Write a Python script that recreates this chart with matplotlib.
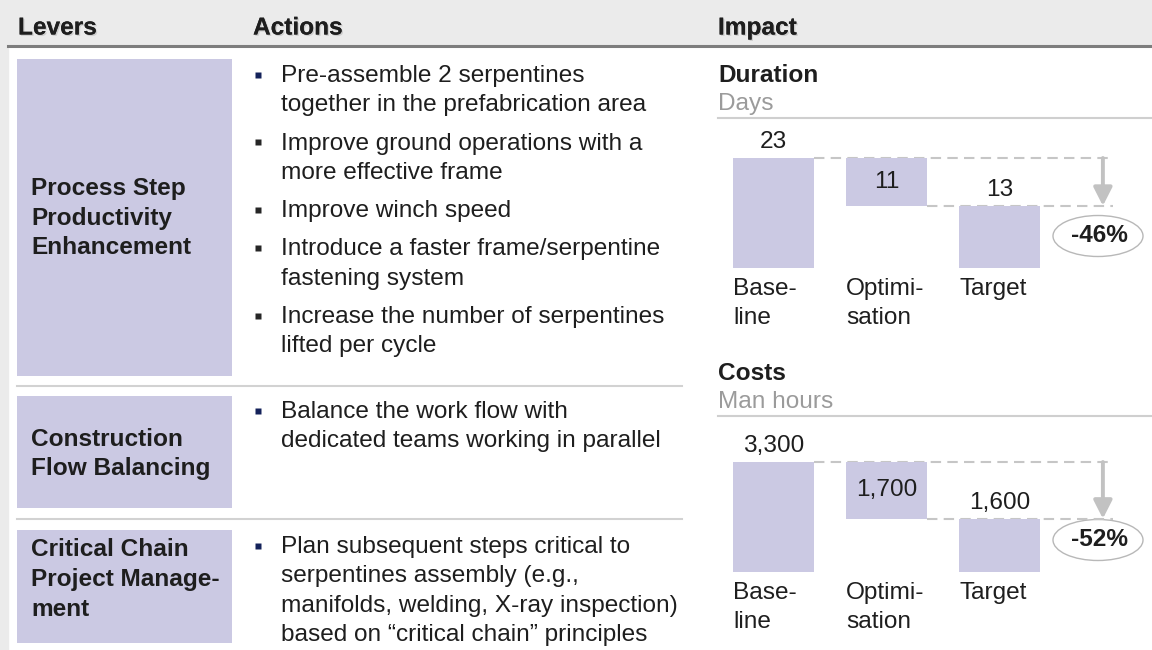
import matplotlib.pyplot as plt
import matplotlib.patheffects as pe
from matplotlib.patches import Rectangle, Ellipse, FancyArrowPatch

plt.rcParams['font.family'] = ['Liberation Sans', 'DejaVu Sans']

# ---- data ----
headers = ['Levers', 'Actions', 'Impact']
levers = [['Process Step', 'Productivity', 'Enhancement'],
          ['Construction', 'Flow Balancing'],
          ['Critical Chain', 'Project Manage-', 'ment']]
actions = [
    [['Pre-assemble 2 serpentines', 'together in the prefabrication area'],
     ['Improve ground operations with a', 'more effective frame'],
     ['Improve winch speed'],
     ['Introduce a faster frame/serpentine', 'fastening system'],
     ['Increase the number of serpentines', 'lifted per cycle']],
    [['Balance the work flow with', 'dedicated teams working in parallel']],
    [['Plan subsequent steps critical to', 'serpentines assembly (e.g.,',
      'manifolds, welding, X-ray inspection)', 'based on \u201ccritical chain\u201d principles']],
]
steps = ['Base-\nline', 'Optimi-\nsation', 'Target']
dur_title, dur_unit = 'Duration', 'Days'
dur_base, dur_reduction, dur_target = 23, 11, 13
dur_change = '-46%'
cost_title, cost_unit = 'Costs', 'Man hours'
cost_base, cost_reduction, cost_target = 3300, 1700, 1600
cost_change = '-52%'

BAR = '#cbc9e3'
TXT = '#1e1e1e'
GRAY_BG = '#ebebeb'
FS = 17.6

W, H = 1152, 650
fig = plt.figure(figsize=(W / 100, H / 100), dpi=100)
fig.patch.set_facecolor('white')

ov = fig.add_axes([0, 0, 1, 1])
ov.set_xlim(0, W)
ov.set_ylim(H, 0)
ov.axis('off')

# background frame
ov.add_patch(Rectangle((0, 0), W, 45, color=GRAY_BG, zorder=0))
ov.add_patch(Rectangle((0, 0), 7.5, H, color=GRAY_BG, zorder=0))
ov.plot([7.5, W], [46, 46], color='#7d7d7d', lw=2.2, zorder=2)

shadow = [pe.withSimplePatchShadow(offset=(1, -1), shadow_rgbFace='#999999', alpha=0.35),
          pe.Normal()]
for name, x in zip(headers, [18, 253, 718]):
    ov.text(x, 28, name, fontsize=FS, fontweight='bold', color=TXT,
            va='center', ha='left', path_effects=shadow)

# lever boxes
box_rows = [(59, 376), (396, 508), (530, 643)]
lever_start = [189, 439, 550]
for i, (top, bot) in enumerate(box_rows):
    ov.add_patch(Rectangle((17, top), 215, bot - top, color=BAR, lw=0, zorder=1))
    for k, ln in enumerate(levers[i]):
        ov.text(31, lever_start[i] + k * 29.5, ln, fontsize=FS, fontweight='bold',
                color=TXT, va='center', ha='left')

# actions
action_start = [76, 412, 547]
for i, bullets in enumerate(actions):
    y = action_start[i]
    for j, b in enumerate(bullets):
        col = '#14225a' if j == 0 else '#262626'
        ov.plot(257.5, y - 1.5, marker='s', ms=4.3, color=col, mec='none')
        for ln in b:
            ov.text(281, y, ln, fontsize=FS, color=TXT, va='center', ha='left')
            y += 29.3
        y += 9

for ysep in [386, 519]:
    ov.plot([17, 682], [ysep, ysep], color='#d2d2d2', lw=1.5)


def waterfall(title, unit, base, red, target, change, title_y, top_px, bot_px, fmt):
    ov.text(718, title_y, title, fontsize=FS, fontweight='bold', color=TXT,
            va='center', ha='left')
    ov.text(718, title_y + 29, unit, fontsize=FS, color='#9b9b9b',
            va='center', ha='left')
    ov.plot([718, W], [title_y + 43, title_y + 43], color='#cfcfcf', lw=1.5)

    scale = (bot_px - top_px) / base
    ymax = base * 1.3
    ax_h = ymax * scale
    x0, x1 = 718, W
    c0, step = 773.5, 113.0
    ax = fig.add_axes([x0 / W, (H - bot_px) / H, (x1 - x0) / W, ax_h / H])
    ax.set_xlim(-(c0 - x0) / step, (x1 - c0) / step)
    ax.set_ylim(0, ymax)
    ax.axis('off')

    bw = 81 / step
    ax.plot([bw / 2, 3.0], [base, base], ls=(0, (5, 3)), color='#c6c6c6', lw=1.5, zorder=1)
    ax.plot([1 + bw / 2, 3.0], [target, target], ls=(0, (5, 3)), color='#c6c6c6', lw=1.5, zorder=1)
    ax.bar(0, base, width=bw, color=BAR, lw=0, zorder=2)
    ax.bar(1, base - target, bottom=target, width=bw, color=BAR, lw=0, zorder=2)
    ax.bar(2, target, width=bw, color=BAR, lw=0, zorder=2)

    ax.annotate(fmt(base), (0, base), xytext=(0, 11.5), textcoords='offset points',
                fontsize=FS, color=TXT, ha='center', va='center')
    ax.text(1, (base + target) / 2, fmt(red), fontsize=FS, color=TXT,
            ha='center', va='center', zorder=3)
    ax.annotate(fmt(target), (2, target), xytext=(0, 11.5), textcoords='offset points',
                fontsize=FS, color=TXT, ha='center', va='center')

    ax.add_patch(FancyArrowPatch((2.915, base), (2.915, target),
                                 arrowstyle='-|>,head_width=0.28,head_length=0.55',
                                 mutation_scale=20, color='#c2c2c2', lw=2.8,
                                 shrinkA=0, shrinkB=0, zorder=3))

    cy = bot_px - 32
    ov.add_patch(Ellipse((1098, cy), 90, 41, fill=False, ec='#b8b8b8', lw=1))
    ov.text(1099, cy, change, fontsize=FS, fontweight='bold', color=TXT,
            ha='center', va='center')

    for k, s in enumerate(steps):
        lx = c0 + (k - bw / 2) * step + (1 if k == 2 else 0)
        for m, part in enumerate(s.split('\n')):
            ov.text(lx, bot_px + 21 + m * 29.5, part, fontsize=FS, color=TXT,
                    ha='left', va='center')


waterfall(dur_title, dur_unit, dur_base, dur_reduction, dur_target, dur_change,
          75, 158, 268, lambda v: f'{v}')
waterfall(cost_title, cost_unit, cost_base, cost_reduction, cost_target, cost_change,
          373, 462, 572, lambda v: f'{v:,}')

fig.savefig('out.png', dpi=100)
